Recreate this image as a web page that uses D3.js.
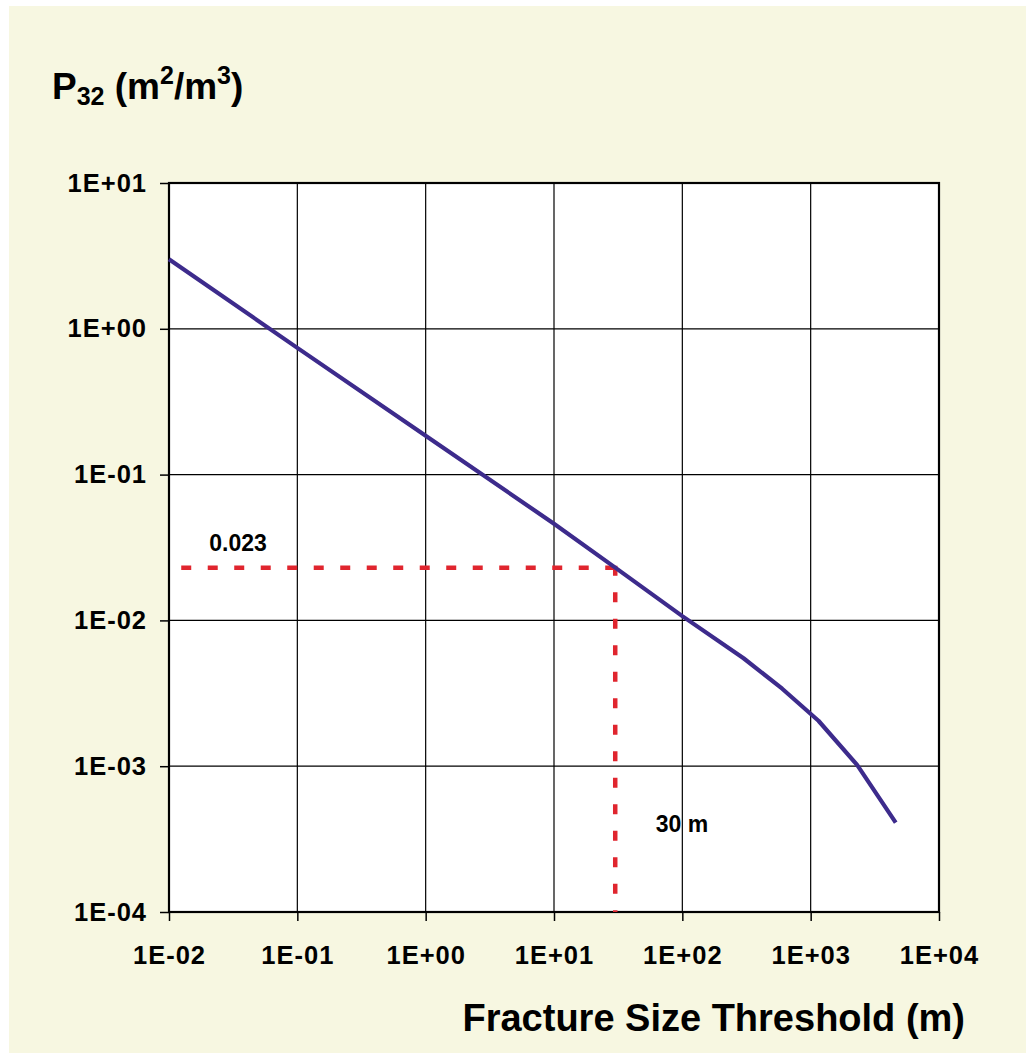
<!DOCTYPE html>
<html lang="en">
<head>
<meta charset="UTF-8">
<title>P32 vs Fracture Size Threshold</title>
<script src="https://cdnjs.cloudflare.com/ajax/libs/d3/7.9.0/d3.min.js"></script>
<style>
    body { margin: 0; background: #ffffff; }
    svg { display: block; font-family: "Liberation Sans", Arial, sans-serif; font-weight: bold; }
</style>
</head>
<body>
<svg id="chart" width="1026" height="1059"></svg>
<script>
    // fracture size threshold (m) and P32 (m2/m3)
    const sizes = [0.01, 0.1, 1, 10, 30, 100, 300, 600, 1150, 2300, 4600];
    const p32 = [3.0, 0.74, 0.185, 0.046, 0.023, 0.0107, 0.0055, 0.0034, 0.00205, 0.00102, 0.00041];
    const xTicks = [1e-2, 1e-1, 1e0, 1e1, 1e2, 1e3, 1e4];
    const yTicks = [1e-4, 1e-3, 1e-2, 1e-1, 1e0, 1e1];
    const markSize = 30, markP32 = 0.023;

    const svg = d3.select('#chart');
    const W = 1026, H = 1059;
    const pLeft = 169, pRight = 939, pTop = 183, pBottom = 912;

    svg.append('rect').attr('x', 9).attr('y', 6).attr('width', W - 9).attr('height', H - 12)
        .attr('fill', '#f7f7e1');

    const x = d3.scaleLog().domain([1e-2, 1e4]).range([pLeft, pRight]);
    const y = d3.scaleLog().domain([1e-4, 1e1]).range([pBottom, pTop]);

    // format like 1E+01 / 1E-02
    const fmt = v => {
        const e = Math.round(Math.log10(v));
        return '1E' + (e < 0 ? '-' : '+') + String(Math.abs(e)).padStart(2, '0');
    };

    svg.append('rect').attr('x', pLeft).attr('y', pTop)
        .attr('width', pRight - pLeft).attr('height', pBottom - pTop).attr('fill', '#ffffff');

    // grid
    svg.append('g').selectAll('line').data(xTicks.slice(1, -1)).join('line')
        .attr('x1', d => x(d)).attr('x2', d => x(d)).attr('y1', pTop).attr('y2', pBottom)
        .attr('stroke', '#000').attr('stroke-width', 1.2);
    svg.append('g').selectAll('line').data(yTicks.slice(1, -1)).join('line')
        .attr('y1', d => y(d)).attr('y2', d => y(d)).attr('x1', pLeft).attr('x2', pRight)
        .attr('stroke', '#000').attr('stroke-width', 1.2);

    // axes
    const xAxis = svg.append('g').attr('transform', `translate(0,${pBottom})`)
        .call(d3.axisBottom(x).tickValues(xTicks).tickFormat(fmt).tickSize(9).tickPadding(25));
    const yAxis = svg.append('g').attr('transform', `translate(${pLeft},0)`)
        .call(d3.axisLeft(y).tickValues(yTicks).tickFormat(fmt).tickSize(9).tickPadding(13));
    [xAxis, yAxis].forEach(a => {
        a.select('.domain').remove();
        a.selectAll('line').attr('stroke', '#000').attr('stroke-width', 1.5);
        a.selectAll('text').attr('font-family', '"Liberation Sans", Arial, sans-serif')
            .attr('font-weight', 'bold').attr('font-size', 25.5).attr('letter-spacing', 1)
            .attr('fill', '#000');
    });

    // plot frame
    svg.append('rect').attr('x', pLeft).attr('y', pTop)
        .attr('width', pRight - pLeft).attr('height', pBottom - pTop)
        .attr('fill', 'none').attr('stroke', '#000').attr('stroke-width', 2.2);

    // red guide lines at 30 m
    const guide = svg.append('g').attr('stroke', '#e0252e').attr('stroke-width', 4.5)
        .attr('stroke-dasharray', '10,16.5').attr('fill', 'none');
    guide.append('line').attr('x1', x(markSize)).attr('y1', y(markP32))
        .attr('x2', x(1e-2)).attr('y2', y(markP32));
    guide.append('line').attr('x1', x(markSize)).attr('y1', y(markP32) - 2)
        .attr('x2', x(markSize)).attr('y2', y(1e-4));

    // curve
    const pts = sizes.map((s, i) => [s, p32[i]]);
    svg.append('path').datum(pts)
        .attr('d', d3.line().x(d => x(d[0])).y(d => y(d[1])))
        .attr('fill', 'none').attr('stroke', '#3d2b8c').attr('stroke-width', 4.2)
        .attr('stroke-linejoin', 'round');

    // annotations
    svg.append('text').attr('x', 238).attr('y', 551).attr('text-anchor', 'middle')
        .attr('font-size', 23).text('0.023');
    svg.append('text').attr('x', 682).attr('y', 832).attr('text-anchor', 'middle')
        .attr('font-size', 23).text('30 m');

    // axis titles
    const yt = svg.append('text').attr('x', 52).attr('y', 99).attr('font-size', 37);
    yt.append('tspan').text('P');
    yt.append('tspan').attr('font-size', 25).attr('dy', 6).text('32');
    yt.append('tspan').attr('dy', -6).text(' (m');
    yt.append('tspan').attr('font-size', 25).attr('dy', -15).text('2');
    yt.append('tspan').attr('dy', 15).text('/m');
    yt.append('tspan').attr('font-size', 25).attr('dy', -15).text('3');
    yt.append('tspan').attr('dy', 15).text(')');

    svg.append('text').attr('x', 965).attr('y', 1031).attr('text-anchor', 'end')
        .attr('font-size', 38).text('Fracture Size Threshold (m)');
</script>
</body>
</html>
